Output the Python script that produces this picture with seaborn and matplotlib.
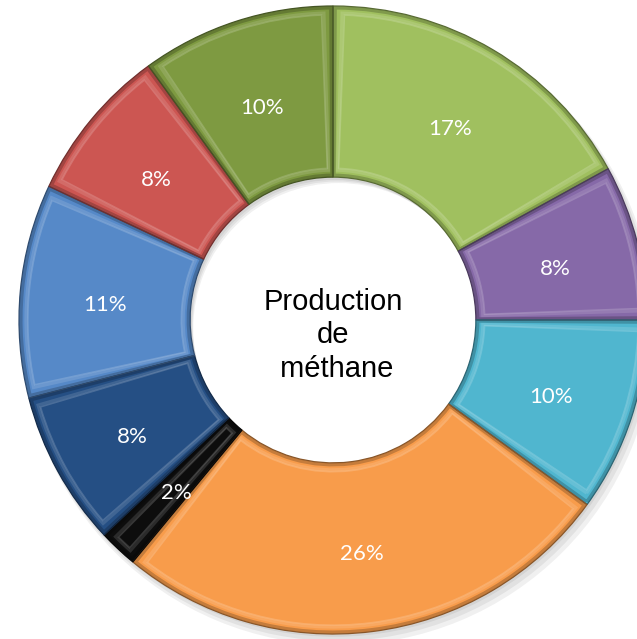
import matplotlib
matplotlib.use("Agg")
import matplotlib.pyplot as plt
import matplotlib.colors as mcolors
from matplotlib.patches import Wedge
import seaborn as sns
import numpy as np

# Share of each source in methane production (clockwise from 12 o'clock)
shares = [17, 8, 10, 26, 2, 8, 11, 8, 10]
slice_colors = ["#A0C05F", "#8669A8", "#50B6CF", "#F89C4B", "#0D0D0D",
                "#254F84", "#5689C8", "#CC5652", "#7E9A41"]
center_title = "Production\nde\n méthane"

sns.set_theme(style="white")
plt.rcParams["font.family"] = ["Lato", "DejaVu Sans"]

W, H, DPI = 637, 639, 100
cx_px, cy_px, r_px = 333, 320, 314

fig = plt.figure(figsize=(W / DPI, H / DPI), dpi=DPI)
ax = fig.add_axes([0, 0, 1, 1])

ring_width = 0.545

# soft drop shadow under the ring
for k, a in enumerate([0.06, 0.06, 0.06]):
    off = 0.006 * (k + 1)
    ax.add_patch(Wedge((off, -1.5 * off), 1.0 + 0.004 * k, 0, 360, width=ring_width,
                       facecolor="#000000", alpha=a, edgecolor="none", zorder=0))

wedges, texts, autotexts = ax.pie(
    shares, colors=slice_colors, startangle=90, counterclock=False,
    autopct=lambda p: f"{p:.0f}%", pctdistance=0.73, radius=1.0,
    wedgeprops=dict(width=ring_width, edgecolor="none", linewidth=0),
    textprops=dict(color="white", fontsize=16),
)
for w in wedges:
    w.set_zorder(1)
for t in autotexts:
    t.set_zorder(5)
    x, y = t.get_position()
    t.set_position((x, y - 0.02))

# bevel: dark rim, then a soft light band just inside it
for w, c in zip(wedges, slice_colors):
    rgb = np.array(mcolors.to_rgb(c))
    light = np.clip(rgb + (1 - rgb) * 0.5, 0, 1)
    dark = rgb * 0.55
    t1, t2 = w.theta1, w.theta2
    ax.add_patch(Wedge((0, 0), 1.0 - 0.006, t1 + 0.4, t2 - 0.4, width=ring_width - 0.012,
                       facecolor="none", edgecolor=dark, linewidth=2.4, alpha=0.45, zorder=2))
    ax.add_patch(Wedge((0, 0), 1.0, t1, t2, width=ring_width,
                       facecolor="none", edgecolor=dark, linewidth=0.9, zorder=2))
    for inset, lw, a in [(0.022, 2.2, 0.25), (0.028, 1.2, 0.35)]:
        da = np.degrees(inset / 0.75)
        ax.add_patch(Wedge((0, 0), 1.0 - inset, t1 + da, t2 - da,
                           width=ring_width - 2 * inset, facecolor="none",
                           edgecolor=light, linewidth=lw, alpha=a, zorder=3))

ax.text(0, -0.048, center_title, ha="center", va="center", fontsize=21,
        family=["Liberation Sans", "DejaVu Sans"], color="black",
        linespacing=1.25, zorder=6)

ax.set_xlim(-cx_px / r_px, (W - cx_px) / r_px)
ax.set_ylim(-(H - cy_px) / r_px, cy_px / r_px)
ax.set_aspect("auto")
ax.axis("off")

fig.savefig("out.png", dpi=DPI, facecolor="white")
